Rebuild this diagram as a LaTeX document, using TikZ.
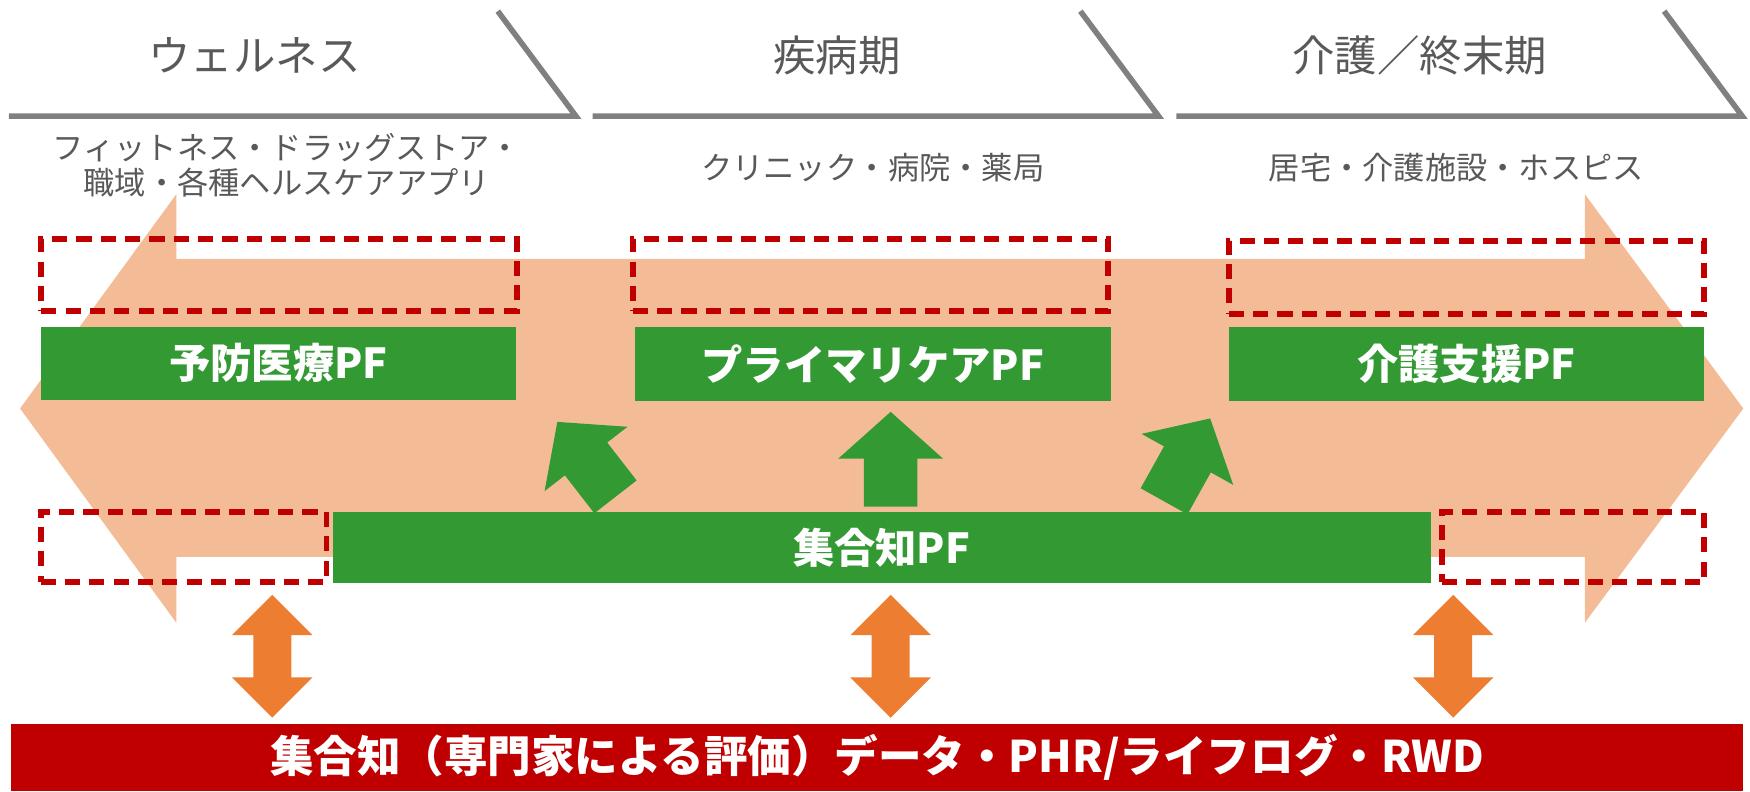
\documentclass[tikz,border=0pt]{standalone}
\usepackage{fontspec}
\setmainfont{Noto Sans CJK JP}
\definecolor{chevgray}{HTML}{808080}
\definecolor{txtgray}{HTML}{595959}
\definecolor{bandfill}{HTML}{F4BC96}
\definecolor{pfgreen}{HTML}{339933}
\definecolor{darkred}{HTML}{C00000}
\definecolor{arrorange}{HTML}{ED7D31}
\tikzset{
  chev/.style={draw=chevgray, line width=5pt, line join=miter},
  phase/.style={text=txtgray, inner sep=0pt, font=\fontsize{38}{40}\selectfont},
  venue/.style={text=txtgray, inner sep=0pt, align=center, font=\fontsize{28}{31}\selectfont},
  pfbox/.style={fill=pfgreen, text=white, inner sep=0pt, font=\bfseries\fontsize{37}{40}\selectfont},
  dashbox/.style={draw=darkred, line width=5.2pt, dash pattern=on 13.5pt off 8.3pt, inner sep=0pt},
  barbox/.style={fill=darkred, text=white, inner sep=0pt, font=\bfseries\fontsize{39}{41}\selectfont},
  greenup/.pic={\fill[pfgreen] (0,-42) -- (47,0) -- (24,0) -- (24,43) -- (-24,43) -- (-24,0) -- (-47,0) -- cycle;},
  orangeud/.pic={\fill[arrorange] (0,-55) -- (36,-19) -- (17,-19) -- (17,19) -- (36,19) -- (0,55) -- (-36,19) -- (-17,19) -- (-17,-19) -- (-36,-19) -- cycle;}
}
\begin{document}
\begin{tikzpicture}[x=1pt,y=-1pt]
\useasboundingbox (0,0) rectangle (1568,709);
% phase chevrons
\draw[chev] (446,10) -- (516,104) -- (8,104);
\draw[chev] (968,10) -- (1038,104) -- (531,104);
\draw[chev] (1491,10) -- (1561,104) -- (1054,104);
\node[phase] (wellness) at (228,50) {ウェルネス};
\node[phase] (disease) at (750,50) {疾病期};
\node[phase] (care) at (1272,50) {介護／終末期};
\node[venue] (venue1) at (257,148) {フィットネス・ドラッグストア・\\職域・各種ヘルスケアアプリ};
\node[venue] (venue2) at (782,150) {クリニック・病院・薬局};
\node[venue] (venue3) at (1305,150) {居宅・介護施設・ホスピス};
% big double arrow band
\fill[bandfill] (18,366) -- (158,174) -- (158,232) -- (1420,232) -- (1420,174) -- (1562,366) -- (1420,558) -- (1420,499) -- (158,499) -- (158,558) -- cycle;
% dashed boxes
\node[dashbox, minimum width=426pt, minimum height=65pt] (d1) at (250,246.5) {};
\node[dashbox, minimum width=426pt, minimum height=65pt] (d2) at (780,246.5) {};
\node[dashbox, minimum width=426pt, minimum height=65pt] (d3) at (1314,248.5) {};
\node[dashbox, minimum width=256pt, minimum height=63pt] (d4) at (164.5,490) {};
\node[dashbox, minimum width=235pt, minimum height=63pt] (d5) at (1409.5,490) {};
% green PF boxes
\node[pfbox, minimum width=425pt, minimum height=65pt] (yobo) at (249.5,325.5) {予防医療PF};
\node[pfbox, minimum width=426pt, minimum height=66pt] (primary) at (782,326) {プライマリケアPF};
\node[pfbox, minimum width=426pt, minimum height=66pt] (kaigo) at (1314,326) {介護支援PF};
% green up arrows
\pic[rotate=37.8] at (525.1,411.2) {greenup};
\pic at (798,411) {greenup};
\pic[rotate=-29.1] at (1063.9,411.6) {greenup};
\node[pfbox, minimum width=984pt, minimum height=63pt] (shugo) at (790,490.5) {集合知PF};
% orange double arrows
\pic at (244,588) {orangeud};
\pic at (798,588) {orangeud};
\pic at (1302,588) {orangeud};
% red bar
\node[barbox, minimum width=1552pt, minimum height=60pt] (bar) at (786,679) {集合知（専門家による評価）データ・PHR/ライフログ・RWD};
\end{tikzpicture}
\end{document}
